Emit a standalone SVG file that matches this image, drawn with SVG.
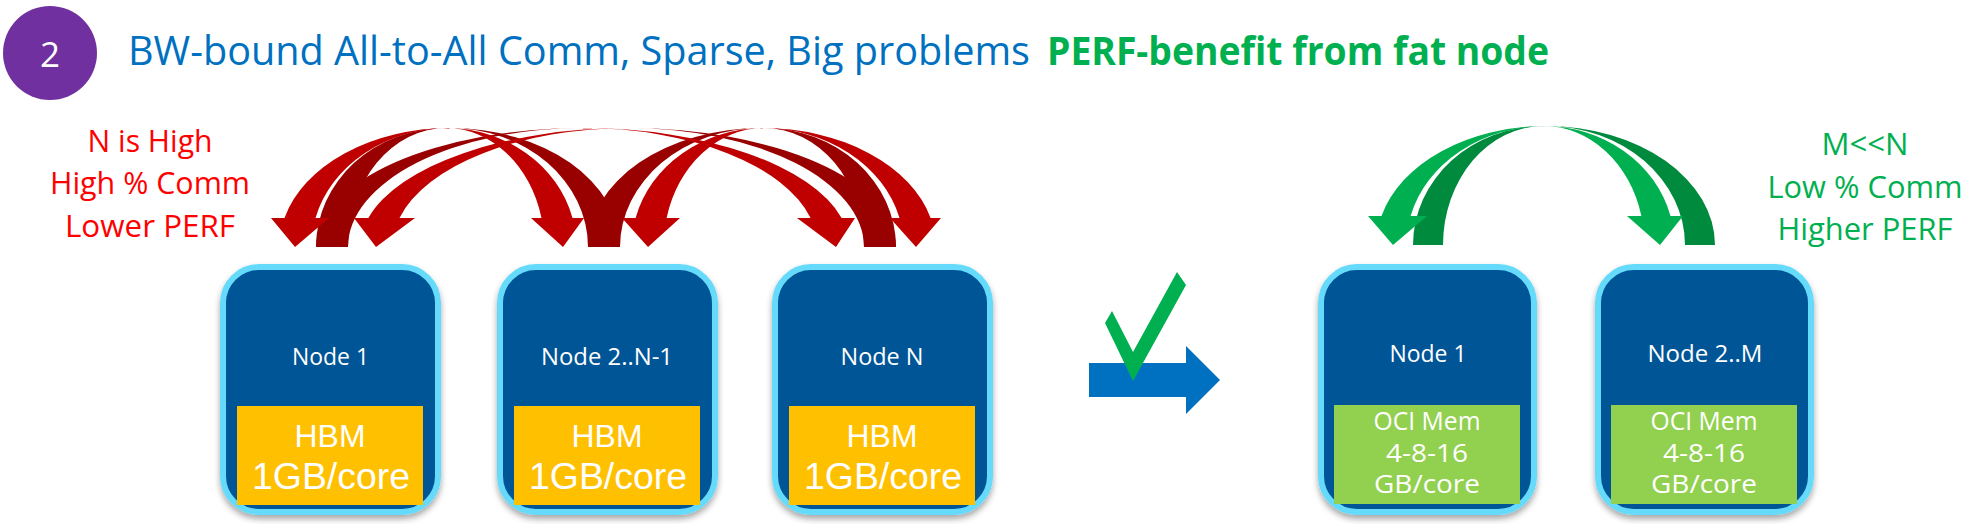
<svg xmlns="http://www.w3.org/2000/svg" width="1973" height="524" viewBox="0 0 1973 524">
<defs>
<filter id="sh" x="-10%" y="-10%" width="120%" height="120%">
<feDropShadow dx="0" dy="4" stdDeviation="3" flood-color="#000" flood-opacity="0.35"/>
</filter>
</defs>
<style>
.t{font-family:"Open Sans","Noto Sans","Liberation Sans",sans-serif}
.node{fill:#005496;stroke:#66DAFA;stroke-width:6}
.hbm{fill:#FFC000}
.oci{fill:#92D050}
.lbl{font-family:"Open Sans","Noto Sans","Liberation Sans",sans-serif;font-size:23.5px;fill:#fff;text-anchor:middle}
.mem{font-family:"Liberation Sans",Arial,sans-serif;fill:#fff;text-anchor:middle}
.oct{font-family:"Open Sans","Noto Sans","Liberation Sans",sans-serif;font-size:25px;fill:#fff;text-anchor:middle}
.rd{fill:#990000}.rb{fill:#C00000}
.gd{fill:#008A3E}.gb{fill:#00B050}
.red{font-family:"Open Sans","Noto Sans","Liberation Sans",sans-serif;font-size:31px;fill:#FF0000;text-anchor:middle}
.grn{font-family:"Open Sans","Noto Sans","Liberation Sans",sans-serif;font-size:31px;fill:#00B050;text-anchor:middle}
</style>
<rect width="1973" height="524" fill="#fff"/>
<g id="badge">
<circle cx="50" cy="53" r="47" fill="#7030A0"/>
<text class="t" x="50" y="67" font-size="35" fill="#fff" text-anchor="middle">2</text>
</g>
<g id="title">
<text class="t" x="128" y="65" font-size="40" fill="#0070C0" textLength="902" lengthAdjust="spacingAndGlyphs">BW-bound All-to-All Comm, Sparse, Big problems</text>
<text class="t" x="1047" y="65" font-size="40" font-weight="bold" fill="#00B050" textLength="502" lengthAdjust="spacingAndGlyphs">PERF-benefit from fat node</text>
</g>
<g id="left-label">
<text class="red" x="150" y="152" textLength="125" lengthAdjust="spacingAndGlyphs">N is High</text>
<text class="red" x="150" y="194" textLength="200" lengthAdjust="spacingAndGlyphs">High % Comm</text>
<text class="red" x="150" y="237" textLength="170" lengthAdjust="spacingAndGlyphs">Lower PERF</text>
</g>
<g id="right-label">
<text class="grn" x="1865" y="155" textLength="87" lengthAdjust="spacingAndGlyphs">M&lt;&lt;N</text>
<text class="grn" x="1865" y="198" textLength="195" lengthAdjust="spacingAndGlyphs">Low % Comm</text>
<text class="grn" x="1865" y="240" textLength="175" lengthAdjust="spacingAndGlyphs">Higher PERF</text>
</g>
<g id="connectors">
<!-- dark (tail) parts -->
<path class="rd" d="M620,247 A170.3,119 0 0 0 449.7,128 A138.3,119 0 0 1 588,247 Z"/>
<path class="rd" d="M896,247 A267.8,119 0 0 0 628.2,128 A235.8,119 0 0 1 864,247 Z"/>
<path class="rd" d="M316,247 A130.2,119 0 0 1 446.2,128 A98.2,119 0 0 0 348,247 Z"/>
<path class="rd" d="M896,247 A132.2,119 0 0 0 763.8,128 A100.2,119 0 0 1 864,247 Z"/>
<path class="rd" d="M316,247 A266.8,119 0 0 1 582.8,128 A234.8,119 0 0 0 348,247 Z"/>
<path class="rd" d="M588,247 A173.9,119 0 0 1 761.9,128 A141.9,119 0 0 0 620,247 Z"/>
<!-- bright (head) parts -->
<path class="rb" d="M449.7,128 A170.3,119 0 0 0 284.5,218 L315.5,218 A138.3,119 0 0 1 449.7,128 Z M271,218 L329,218 L295,247 Z"/>
<path class="rb" d="M628.2,128 A267.8,119 0 0 0 368.4,218 L399.5,218 A235.8,119 0 0 1 628.2,128 Z M354,218 L415,218 L376,247 Z"/>
<path class="rb" d="M446.2,128 A130.2,119 0 0 1 572.5,218 L541.5,218 A98.2,119 0 0 0 446.2,128 Z M531,218 L584,218 L563,247 Z"/>
<path class="rb" d="M763.8,128 A132.2,119 0 0 0 635.6,218 L666.6,218 A100.2,119 0 0 1 763.8,128 Z M622,218 L680,218 L648,247 Z"/>
<path class="rb" d="M582.8,128 A266.8,119 0 0 1 841.6,218 L810.6,218 A234.8,119 0 0 0 582.8,128 Z M797,218 L855,218 L836,247 Z"/>
<path class="rb" d="M761.9,128 A173.9,119 0 0 1 930.6,218 L899.5,218 A141.9,119 0 0 0 761.9,128 Z M890,218 L941,218 L916,247 Z"/>
<!-- green -->
<path class="gd" d="M1413,245 A130.7,119 0 0 1 1543.7,126 A100.7,119 0 0 0 1443,245 Z"/>
<path class="gd" d="M1715,245 A169.3,119 0 0 0 1545.7,126 A139.3,119 0 0 1 1685,245 Z"/>
<path class="gb" d="M1543.7,126 A130.7,119 0 0 1 1670.5,216 L1641.4,216 A100.7,119 0 0 0 1543.7,126 Z M1627,216 L1683,216 L1660,245 Z"/>
<path class="gb" d="M1545.7,126 A169.3,119 0 0 0 1381.5,216 L1410.6,216 A139.3,119 0 0 1 1545.7,126 Z M1368,216 L1427,216 L1393,245 Z"/>
</g>
<g id="node-l1">
<rect class="node" x="223" y="267" width="215" height="245" rx="36" filter="url(#sh)"/>
<rect class="hbm" x="237" y="406" width="186" height="99"/>
<text class="lbl" x="330.5" y="365" textLength="77" lengthAdjust="spacingAndGlyphs">Node 1</text>
<text class="mem" x="330" y="447" font-size="31" textLength="71" lengthAdjust="spacingAndGlyphs">HBM</text>
<text class="mem" x="331" y="489" font-size="37" textLength="158" lengthAdjust="spacingAndGlyphs">1GB/core</text>
</g>
<g id="node-l2">
<rect class="node" x="500" y="267" width="215" height="245" rx="36" filter="url(#sh)"/>
<rect class="hbm" x="514" y="406" width="186" height="99"/>
<text class="lbl" x="607" y="365" textLength="132" lengthAdjust="spacingAndGlyphs">Node 2..N-1</text>
<text class="mem" x="607" y="447" font-size="31" textLength="71" lengthAdjust="spacingAndGlyphs">HBM</text>
<text class="mem" x="608" y="489" font-size="37" textLength="158" lengthAdjust="spacingAndGlyphs">1GB/core</text>
</g>
<g id="node-ln">
<rect class="node" x="775" y="267" width="215" height="245" rx="36" filter="url(#sh)"/>
<rect class="hbm" x="789" y="406" width="186" height="99"/>
<text class="lbl" x="882" y="365" textLength="83" lengthAdjust="spacingAndGlyphs">Node N</text>
<text class="mem" x="882" y="447" font-size="31" textLength="71" lengthAdjust="spacingAndGlyphs">HBM</text>
<text class="mem" x="883" y="489" font-size="37" textLength="158" lengthAdjust="spacingAndGlyphs">1GB/core</text>
</g>
<g id="transition">
<polygon fill="#0070C0" points="1089,363 1186,363 1186,346 1220,380 1186,414 1186,397 1089,397"/>
<polygon fill="#00B050" points="1105,323 1112,311 1133,352 1177,272 1186,285 1133,381"/>
</g>
<g id="node-r1">
<rect class="node" x="1321" y="267" width="213" height="245" rx="36" filter="url(#sh)"/>
<rect class="oci" x="1334" y="405" width="186" height="99"/>
<text class="lbl" x="1428" y="362" textLength="77" lengthAdjust="spacingAndGlyphs">Node 1</text>
<text class="oct" x="1427" y="430" textLength="107" lengthAdjust="spacingAndGlyphs">OCI Mem</text>
<text class="oct" x="1427" y="462" textLength="82" lengthAdjust="spacingAndGlyphs">4-8-16</text>
<text class="oct" x="1427" y="493" textLength="106" lengthAdjust="spacingAndGlyphs">GB/core</text>
</g>
<g id="node-r2">
<rect class="node" x="1598" y="267" width="213" height="245" rx="36" filter="url(#sh)"/>
<rect class="oci" x="1611" y="405" width="186" height="99"/>
<text class="lbl" x="1705" y="362" textLength="115" lengthAdjust="spacingAndGlyphs">Node 2..M</text>
<text class="oct" x="1704" y="430" textLength="107" lengthAdjust="spacingAndGlyphs">OCI Mem</text>
<text class="oct" x="1704" y="462" textLength="82" lengthAdjust="spacingAndGlyphs">4-8-16</text>
<text class="oct" x="1704" y="493" textLength="106" lengthAdjust="spacingAndGlyphs">GB/core</text>
</g>
</svg>
